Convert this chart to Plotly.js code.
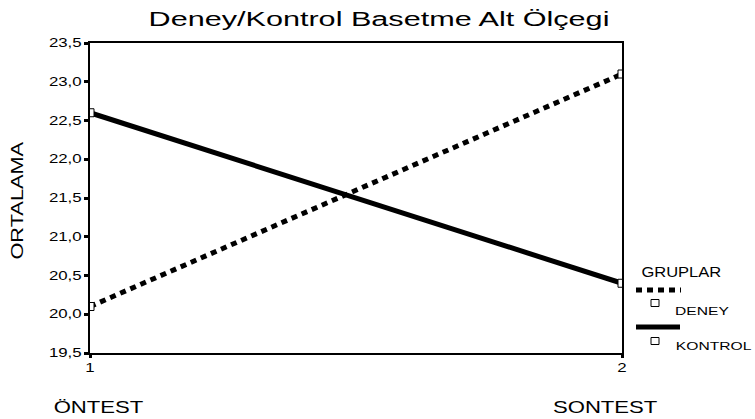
<!DOCTYPE html>
<html>
<head>
<meta charset="utf-8">
<script src="https://cdn.plot.ly/plotly-3.0.1.min.js"></script>
<style>html,body{margin:0;padding:0;background:#fff;}#chart{width:755px;height:419px;}</style>
</head>
<body>
<div id="chart"></div>
<script>
const xValues = [1, 2];
const xTickText = ["1", "2"];
const phaseLabels = ["ÖNTEST", "SONTEST"];
const deney = [20.1, 23.1];
const kontrol = [22.6, 20.4];
const yTicks = [19.5, 20.0, 20.5, 21.0, 21.5, 22.0, 22.5, 23.0, 23.5];

const FONT = "Liberation Sans, Arial, sans-serif";
const L = 90, R = 622, T = 43, B = 353;
const px = x => (x - L) / (R - L);
const py = y => (B - y) / (B - T);

const traces = [
  {x: xValues, y: deney, mode: "lines+markers", name: "DENEY",
   line: {color: "#000", width: 5, dash: "6px,5px"},
   marker: {symbol: "square", size: 8, color: "#fff", line: {color: "#000", width: 1}}},
  {x: xValues, y: kontrol, mode: "lines+markers", name: "KONTROL",
   line: {color: "#000", width: 5},
   marker: {symbol: "square", size: 8, color: "#fff", line: {color: "#000", width: 1}}}
];

function sq(xp, yp) {
  return {type: "rect", xref: "paper", yref: "paper", xsizemode: "pixel", ysizemode: "pixel",
    xanchor: xp, yanchor: yp, x0: -4, x1: 4, y0: -3.5, y1: 3.5,
    line: {color: "#000", width: 1}, fillcolor: "#fff"};
}

function ann(text, x, y, size, extra) {
  return Object.assign({text: text, xref: "paper", yref: "paper", x: px(x), y: py(y), showarrow: false,
    xanchor: "center", yanchor: "middle", font: {family: FONT, size: size, color: "#000"}}, extra || {});
}

const layout = {
  width: 755, height: 419,
  margin: {l: L, r: 755 - R, t: T, b: 419 - B},
  paper_bgcolor: "#fff", plot_bgcolor: "#fff",
  separators: ",.",
  showlegend: false,
  font: {family: FONT, color: "#000"},
  title: {text: "Deney/Kontrol Basetme Alt Ölçegi", font: {family: FONT, size: 20, color: "#000"},
          x: 379 / 755, xanchor: "center", y: 1 - 19 / 419, yanchor: "middle", xref: "container", yref: "container"},
  xaxis: {range: [1, 2], tickvals: xValues, ticktext: xTickText, showgrid: false, zeroline: false,
          showline: true, linecolor: "#000", linewidth: 2, mirror: true,
          ticks: "outside", ticklen: 3, tickwidth: 3, tickcolor: "#000",
          tickfont: {family: FONT, size: 12, color: "#000"}},
  yaxis: {range: [19.5, 23.5], tickvals: yTicks, tickformat: ".1f", showgrid: false, zeroline: false,
          showline: true, linecolor: "#000", linewidth: 2, mirror: true,
          ticks: "outside", ticklen: 4, tickwidth: 3, tickcolor: "#000",
          tickfont: {family: FONT, size: 12, color: "#000"}},
  annotations: [
    ann("ORTALAMA", 17, 201, 16, {textangle: -90}),
    ann(phaseLabels[0], 98, 407, 17),
    ann(phaseLabels[1], 605, 407, 17),
    ann("GRUPLAR", 681, 271, 15),
    ann("DENEY", 702, 311, 11),
    ann("KONTROL", 713, 346, 11)
  ],
  shapes: [
    {type: "line", xref: "paper", yref: "paper", x0: px(636), x1: px(681), y0: py(290), y1: py(290),
     line: {color: "#000", width: 5, dash: "6px,5px"}},
    sq(px(655), py(303)),
    {type: "line", xref: "paper", yref: "paper", x0: px(636), x1: px(680), y0: py(327), y1: py(327),
     line: {color: "#000", width: 5}},
    sq(px(655), py(341))
  ]
};

// horizontal stretch of the reference's wide sans-serif lettering
const stretch = {"GRUPLAR": 1.1, "ORTALAMA": 1.36, "ÖNTEST": 1.3, "SONTEST": 1.3,
                 "DENEY": 1.42, "KONTROL": 1.42};
Plotly.newPlot("chart", traces, layout, {displayModeBar: false, staticPlot: true}).then(() => {
  document.querySelectorAll("#chart svg text").forEach(t => {
    const s = t.textContent.trim();
    if (!s) return;
    let f = stretch[s];
    if (f === undefined) f = s.startsWith("Deney/") ? 1.53 : 1.4;
    const w = t.getComputedTextLength();
    if (w > 0) {
      t.setAttribute("textLength", (w * f).toFixed(1));
      t.setAttribute("lengthAdjust", "spacingAndGlyphs");
    }
  });
});
</script>
</body>
</html>
